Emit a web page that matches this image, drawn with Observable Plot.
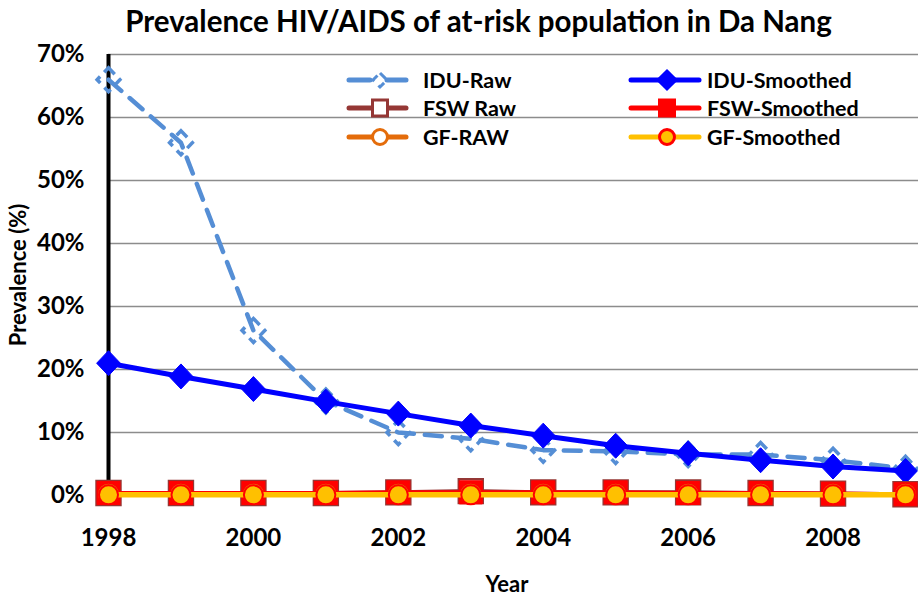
<!DOCTYPE html>
<html><head><meta charset="utf-8">
<script src="https://cdn.jsdelivr.net/npm/d3@7"></script>
<script src="https://cdn.jsdelivr.net/npm/@observablehq/plot@0.6"></script>
<style>
body{margin:0;background:#fff;font-family:Lato,"Open Sans",sans-serif;}
#wrap{position:relative;width:918px;height:600px;overflow:hidden;}
#title{position:absolute;top:1px;left:0;width:957px;text-align:center;font-weight:bold;font-size:29.5px;color:#000;line-height:40px;}
#chart{position:absolute;top:40px;left:0;}
#legend{position:absolute;top:0;left:0;pointer-events:none;}
#ylab{position:absolute;left:18px;top:275px;transform:translate(-50%,-50%) rotate(-90deg);white-space:nowrap;font-weight:bold;font-size:22px;line-height:24px;}
#xlab{position:absolute;left:507px;top:584px;transform:translate(-50%,-50%);white-space:nowrap;font-weight:bold;font-size:22px;line-height:26px;}
</style></head>
<body>
<div id="wrap">
<div id="title">Prevalence HIV/AIDS of at-risk population in Da Nang</div>
<div id="chart"></div>
<svg id="legend" width="918" height="600"></svg>
<div id="ylab">Prevalence (%)</div>
<div id="xlab">Year</div>
</div>
<script>
const years = [1998,1999,2000,2001,2002,2003,2004,2005,2006,2007,2008,2009];
const iduRaw = [66,56,26.2,15,10,9,7.2,7,6.5,6.5,5.6,4.3];
const iduSmoothed = [21,18.9,16.9,14.9,13,11.1,9.5,7.9,6.7,5.6,4.6,3.9];
const fswRaw = [0.4,0.4,0.4,0.4,0.5,0.7,0.5,0.5,0.5,0.4,0.3,0.2];
const fswSmoothed = [0.4,0.4,0.4,0.4,0.5,0.5,0.5,0.5,0.4,0.4,0.3,0.2];
const gfRaw = [0.2,0.2,0.2,0.2,0.2,0.2,0.2,0.2,0.2,0.2,0.2,0.2];
const gfSmoothed = [0.1,0.1,0.1,0.1,0.1,0.1,0.1,0.1,0.1,0.1,0.1,0.1];
const yTicks = [0,10,20,30,40,50,60,70];
const xTicks = [1998,2000,2002,2004,2006,2008];
const seriesNames = ["IDU-Raw","IDU-Smoothed","FSW Raw","FSW-Smoothed","GF-RAW","GF-Smoothed"];

const toRows = arr => years.map((y,i)=>({year:y, value:arr[i]}));

const diamondSym = {draw(ctx,size){const r=Math.sqrt(size/Math.PI);const w=r*0.95;ctx.moveTo(0,-r);ctx.lineTo(w,0);ctx.lineTo(0,r);ctx.lineTo(-w,0);ctx.closePath();}};

const plot = Plot.plot({
  width: 918, height: 560,
  marginLeft: 108, marginRight: 13, marginTop: 14, marginBottom: 105,
  style: {fontFamily: "Lato, 'Open Sans', sans-serif", fontSize: "24px", fontWeight: "bold", color: "#000", background: "#fff", overflow: "visible"},
  x: {domain: [1998, 2009], ticks: xTicks, tickFormat: d => String(d), tickSize: 0, tickPadding: 33, label: null},
  y: {domain: [0, 70], ticks: yTicks, tickFormat: d => d + "%", tickSize: 0, tickPadding: 24, label: null},
  marks: [
    Plot.ruleY(yTicks, {stroke: "#8c8c8c", strokeWidth: 1.6, insetRight: -13}),
    Plot.ruleY([0], {stroke: "#000", strokeWidth: 2, insetRight: -13}),
    Plot.ruleX([1998], {y1: 0, y2: 70, stroke: "#000", strokeWidth: 4}),
    Plot.line(toRows(iduRaw), {x: "year", y: "value", stroke: "#558ED5", strokeWidth: 4.5, strokeDasharray: "17,11", strokeLinecap: "round"}),
    Plot.dot(toRows(iduRaw), {x: "year", y: "value", symbol: diamondSym, r: 12, stroke: "#558ED5", strokeWidth: 3.5, fill: "none", strokeDasharray: "9,6"}),
    Plot.line(toRows(iduSmoothed), {x: "year", y: "value", stroke: "#0000FF", strokeWidth: 5}),
    Plot.dot(toRows(iduSmoothed), {x: "year", y: "value", symbol: diamondSym, r: 12.5, fill: "#0000FF", stroke: "#0000FF", strokeWidth: 1}),
    Plot.line(toRows(fswRaw), {x: "year", y: "value", stroke: "#953735", strokeWidth: 4}),
    Plot.dot(toRows(fswRaw), {x: "year", y: "value", symbol: "square", r: 13.5, fill: "#fff", stroke: "#953735", strokeWidth: 2.5}),
    Plot.line(toRows(fswSmoothed), {x: "year", y: "value", stroke: "#FF0000", strokeWidth: 4}),
    Plot.dot(toRows(fswSmoothed), {x: "year", y: "value", symbol: "square", r: 13, fill: "#FF0000", stroke: "#FF0000", strokeWidth: 1}),
    Plot.line(toRows(gfRaw), {x: "year", y: "value", stroke: "#E46C0A", strokeWidth: 4}),
    Plot.dot(toRows(gfRaw), {x: "year", y: "value", symbol: "circle", r: 9, fill: "#fff", stroke: "#E46C0A", strokeWidth: 3}),
    Plot.line(toRows(gfSmoothed), {x: "year", y: "value", stroke: "#FFC000", strokeWidth: 5.5}),
    Plot.dot(toRows(gfSmoothed), {x: "year", y: "value", symbol: "circle", r: 9.5, fill: "#FFC000", stroke: "#FF0000", strokeWidth: 2})
  ]
});
document.getElementById("chart").appendChild(plot);

// Legend
const lg = d3.select("#legend");
const items = [
  {name: seriesNames[0], col: 0, row: 0, line: "#558ED5", dash: "21,17,30", m: "diamond", mfill: "none", mstroke: "#558ED5", mdash: "8,6"},
  {name: seriesNames[1], col: 1, row: 0, line: "#0000FF", m: "diamond", mfill: "#0000FF", mstroke: "#0000FF"},
  {name: seriesNames[2], col: 0, row: 1, line: "#953735", m: "rect", mfill: "#fff", mstroke: "#953735"},
  {name: seriesNames[3], col: 1, row: 1, line: "#FF0000", m: "rect", mfill: "#FF0000", mstroke: "#FF0000"},
  {name: seriesNames[4], col: 0, row: 2, line: "#E46C0A", m: "circle", mfill: "#fff", mstroke: "#E46C0A"},
  {name: seriesNames[5], col: 1, row: 2, line: "#FFC000", m: "circle", mfill: "#FFC000", mstroke: "#FF0000"}
];
const colX = [[349, 406, 380, 423], [631, 699, 667, 707]];
const rowY = [80, 108, 137];
items.forEach(it => {
  const [x1, x2, cx, tx] = colX[it.col];
  const y = rowY[it.row];
  lg.append("line").attr("x1", x1).attr("x2", x2).attr("y1", y).attr("y2", y)
    .attr("stroke", it.line).attr("stroke-width", 5).attr("stroke-linecap", "round")
    .attr("stroke-dasharray", it.dash || null);
  if (it.m === "diamond") {
    const s = it.col === 0 ? 7 : 9;
    lg.append("path").attr("d", `M${cx},${y-s}L${cx+s},${y}L${cx},${y+s}L${cx-s},${y}Z`)
      .attr("fill", it.mfill).attr("stroke", it.mstroke).attr("stroke-width", 3).attr("stroke-dasharray", it.mdash || null);
  } else if (it.m === "rect") {
    lg.append("rect").attr("x", cx-7.5).attr("y", y-8).attr("width", 15).attr("height", 16)
      .attr("fill", it.mfill).attr("stroke", it.mstroke).attr("stroke-width", 3);
  } else {
    lg.append("circle").attr("cx", cx).attr("cy", y).attr("r", 7.5)
      .attr("fill", it.mfill).attr("stroke", it.mstroke).attr("stroke-width", 3);
  }
  lg.append("text").attr("x", tx).attr("y", y).attr("dy", "0.36em")
    .attr("font-family", "Lato, 'Open Sans', sans-serif").attr("font-weight", "bold").attr("font-size", 21.5)
    .attr("fill", "#000").text(it.name);
});
</script>
</body></html>
